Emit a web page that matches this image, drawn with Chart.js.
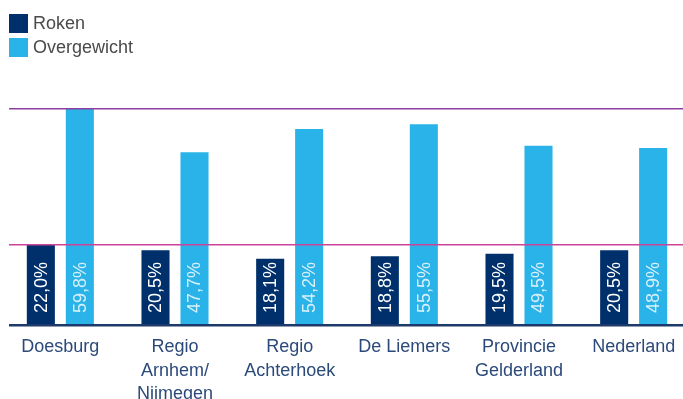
<!DOCTYPE html>
<html>
<head>
<meta charset="utf-8">
<script src="https://cdn.jsdelivr.net/npm/chart.js@4.4.0/dist/chart.umd.min.js"></script>
<style>
  html, body { margin: 0; padding: 0; background: #fff; overflow: hidden; width: 683px; height: 399px; }
  #wrap { position: absolute; left: 0; top: 0; width: 692px; height: 399px; }
  .legend { position: absolute; left: 9px; font-family: "Liberation Sans", Arial, sans-serif; font-size: 18px; color: #4a4a4a; line-height: 19px; }
  .legend span { display: inline-block; width: 19px; height: 19px; vertical-align: top; margin-right: 5px; }
</style>
</head>
<body>
<div id="wrap"><canvas id="chart" width="692" height="399"></canvas></div>
<div class="legend" style="top:14px"><span style="background:#00306b"></span>Roken</div>
<div class="legend" style="top:38px"><span style="background:#2ab3e8"></span>Overgewicht</div>
<script>
// Gegevens
const regios = [['Doesburg'], ['Regio', 'Arnhem/', 'Nijmegen'], ['Regio', 'Achterhoek'], ['De Liemers'], ['Provincie', 'Gelderland'], ['Nederland']];
const roken = [22.0, 20.5, 18.1, 18.8, 19.5, 20.5];
const overgewicht = [59.8, 47.7, 54.2, 55.5, 49.5, 48.9];
const referentieLijnen = [22.0, 59.8];
const lijnKleuren = ['#cc4499', '#8b3fa0'];

const fmt = v => v.toFixed(1).replace('.', ',') + '%';

// Referentielijnen en basislijn
const lijnenPlugin = {
    id: 'lijnen',
    afterDatasetsDraw(chart) {
        const ctx = chart.ctx;
        const y = chart.scales.y;
        const area = chart.chartArea;
        ctx.save();
        referentieLijnen.forEach((v, i) => {
            const py = y.getPixelForValue(v);
            ctx.strokeStyle = lijnKleuren[i];
            ctx.lineWidth = 1.5;
            ctx.beginPath();
            ctx.moveTo(9, py);
            ctx.lineTo(683, py);
            ctx.stroke();
        });
        ctx.strokeStyle = '#1e3a6b';
        ctx.lineWidth = 2.5;
        ctx.beginPath();
        ctx.moveTo(9, area.bottom + 1.3);
        ctx.lineTo(683, area.bottom + 1.3);
        ctx.stroke();

        // Waarden in de staven
        ctx.font = '18px "Liberation Sans", Arial, sans-serif';
        ctx.textAlign = 'left';
        ctx.textBaseline = 'middle';
        chart.data.datasets.forEach((ds, di) => {
            chart.getDatasetMeta(di).data.forEach((bar, i) => {
                ctx.save();
                ctx.translate(bar.x + 1, area.bottom - 11);
                ctx.rotate(-Math.PI / 2);
                ctx.fillStyle = di === 0 ? '#ffffff' : '#d6f0fb';
                ctx.fillText(fmt(ds.data[i]), 0, 0);
                ctx.restore();
            });
        });
        ctx.restore();
    }
};

new Chart(document.getElementById('chart').getContext('2d'), {
    type: 'bar',
    data: {
        labels: regios,
        datasets: [
            { label: 'Roken', data: roken, backgroundColor: '#00306b' },
            { label: 'Overgewicht', data: overgewicht, backgroundColor: '#2ab3e8' }
        ]
    },
    options: {
        responsive: false,
        animation: false,
        layout: { padding: { left: 3, right: 1, top: 108, bottom: 0 } },
        categoryPercentage: 0.68,
        barPercentage: 0.72,
        plugins: { legend: { display: false }, tooltip: { enabled: false } },
        scales: {
            x: {
                grid: { display: false, drawTicks: false },
                border: { display: false },
                ticks: {
                    color: '#2b4a7a',
                    font: { family: '"Liberation Sans", Arial, sans-serif', size: 18, lineHeight: 1.28 },
                    padding: 12,
                    maxRotation: 0,
                    autoSkip: false
                },
                afterFit(scale) { scale.height = 75; }
            },
            y: {
                display: false,
                min: 0,
                max: 60
            }
        }
    },
    plugins: [lijnenPlugin]
});
</script>
</body>
</html>
